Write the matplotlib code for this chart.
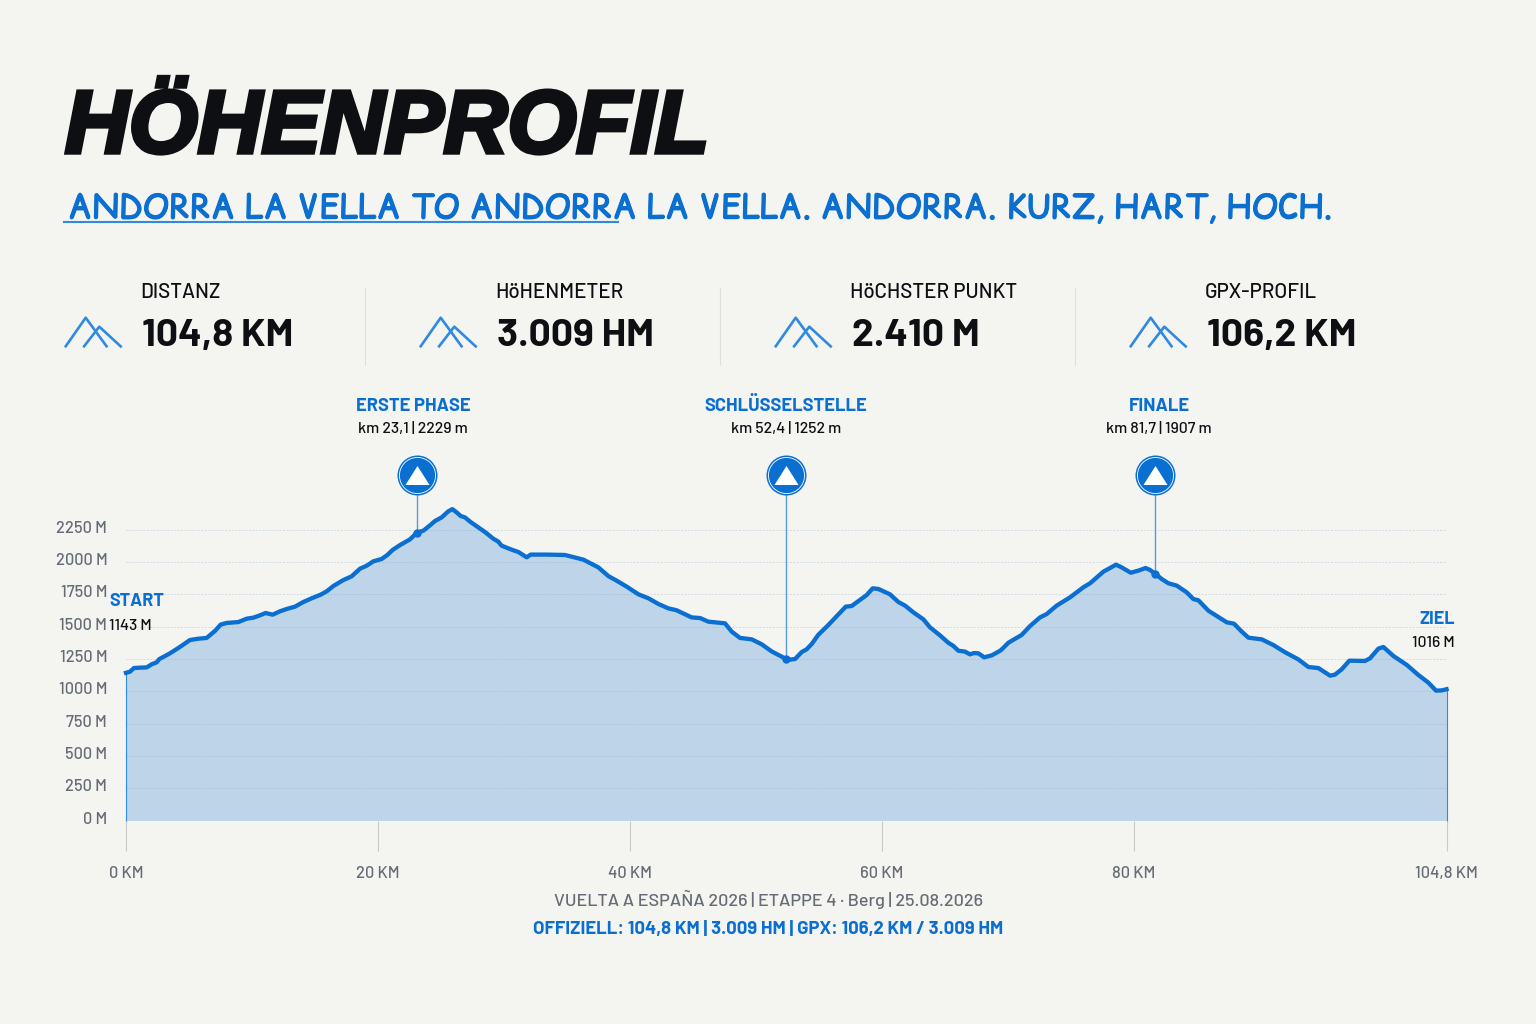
import matplotlib
matplotlib.use("Agg")
import matplotlib.pyplot as plt
import matplotlib.patheffects as pe
from matplotlib.path import Path
from matplotlib.transforms import ScaledTranslation

plt.rcParams["font.family"] = ["Barlow", "Roboto", "DejaVu Sans"]

# profile
km = [0, 0.32, 0.63, 1.11, 1.64, 2.04, 2.43, 2.65, 3.10, 3.49, 4.15, 5.08, 5.74, 6.40, 7.06, 7.51, 7.99, 8.92, 9.58,
      10.11, 10.63, 11.08, 11.64, 12.22, 12.75, 13.41, 14.07, 14.74, 15.45, 15.93, 16.46, 17.25, 17.91, 18.57, 19.10,
      19.63, 20.29, 20.74, 21.16, 21.75, 22.54, 23.10, 23.60, 24.13, 24.52, 25.05, 25.58, 25.90, 26.24, 26.56, 26.90,
      27.35, 28.49, 29.15, 29.55, 29.81, 30.48, 31.14, 31.80, 32.12, 33.39, 34.84, 36.30, 37.49, 38.28, 38.94, 39.74,
      40.66, 41.46, 42.25, 43.04, 43.70, 44.89, 45.56, 46.22, 47.54, 48.07, 48.73, 49.66, 50.45, 51.24, 52.30, 52.70,
      53.10, 53.63, 54.02, 54.42, 54.95, 55.74, 56.54, 57.12, 57.59, 58.25, 58.78, 59.26, 59.71, 60.63, 61.30, 61.83,
      62.49, 63.28, 63.81, 64.60, 65.26, 65.66, 66.06, 66.59, 66.98, 67.30, 67.65, 68.10, 68.71, 69.37, 69.51, 70.03,
      71.08, 71.75, 72.54, 73.07, 73.86, 74.92, 75.98, 76.51, 77.57, 78.57, 79.02, 79.74, 80.35, 80.92, 81.27, 81.72,
      82.20, 82.73, 83.39, 84.18, 84.71, 85.11, 85.90, 86.57, 87.36, 87.94, 88.55, 89.08, 90.14, 91.06, 91.99, 93.04,
      93.84, 94.63, 95.56, 95.95, 96.48, 97.09, 98.33, 98.73, 99.39, 99.79, 100.59, 101.65, 102.57, 103.36, 103.97,
      104.42, 104.8]
elev = [1143, 1152, 1180, 1183, 1185, 1209, 1224, 1250, 1273, 1294, 1335, 1397, 1407, 1413, 1467, 1516, 1529, 1536, 1562,
        1570, 1588, 1606, 1593, 1619, 1637, 1655, 1691, 1720, 1748, 1774, 1815, 1861, 1890, 1949, 1972,
        2006, 2024, 2055, 2094, 2132, 2176, 2229, 2243, 2285, 2318, 2346, 2393, 2410, 2385, 2357, 2346,
        2310, 2233, 2181, 2158, 2127, 2101, 2078, 2037, 2058, 2058, 2055, 2019, 1959, 1892, 1856, 1810,
        1751, 1720, 1676, 1642, 1627, 1572, 1567, 1539, 1526, 1462, 1413, 1402, 1364, 1309, 1255, 1245,
        1250, 1304, 1325, 1366, 1438, 1513, 1596, 1655, 1660, 1707, 1745, 1797, 1792, 1751, 1691, 1663,
        1611, 1557, 1495, 1433, 1376, 1351, 1314, 1307, 1286, 1296, 1294, 1263, 1278, 1314, 1325, 1376,
        1436, 1505, 1572, 1598, 1663, 1727, 1805, 1836, 1926, 1980, 1959, 1918, 1934, 1954, 1939, 1907,
        1869, 1836, 1818, 1766, 1714, 1704, 1624, 1583, 1534, 1523, 1462, 1415, 1402, 1358, 1302, 1247,
        1188, 1180, 1121, 1129, 1170, 1237, 1235, 1255, 1330, 1343, 1273, 1204, 1126, 1067, 1005,
        1007, 1016]

y_ticks = [0, 250, 500, 750, 1000, 1250, 1500, 1750, 2000, 2250]
x_ticks = [0, 20, 40, 60, 80, 104.8]
x_labels = ["0 KM", "20 KM", "40 KM", "60 KM", "80 KM", "104,8 KM"]

phase_names = ["ERSTE PHASE", "SCHLÜSSELSTELLE", "FINALE"]
phase_km = [23.1, 52.4, 81.7]
phase_elev = [2229, 1252, 1907]
phase_subs = ["km 23,1 | 2229 m", "km 52,4 | 1252 m", "km 81,7 | 1907 m"]

stat_names = ["DISTANZ", "HöHENMETER", "HöCHSTER PUNKT", "GPX-PROFIL"]
stat_values = ["104,8 KM", "3.009 HM", "2.410 M", "106,2 KM"]

BG = "#f4f4f0"
BLUE = "#0a6fd0"
LIGHT = "#2f8ae0"
DARK = "#0d0f12"
GREY = "#666c75"

W, H = 1536, 1024
PX = 0.72  # font px to pt at dpi 100

fig = plt.figure(figsize=(W / 100, H / 100), dpi=100, facecolor=BG)

# chart
y_top = 3000
ax = fig.add_axes([126 / W, (H - 820.5) / H, 1320.5 / W, 387.6 / H])
ax.patch.set_alpha(0)
ax.fill_between(km, elev, 0, color="#bed5e9", lw=0, zorder=1)
ax.hlines(y_ticks, 0, 104.8, color="#6f9cc0", lw=0.7, ls=(0, (2, 1.5)), alpha=0.27, zorder=2)
ax.vlines([km[0], km[-1]], 0, [elev[0], elev[-1]], color=LIGHT, lw=0.8, zorder=3, clip_on=False)
ax.plot(km, elev, color=BLUE, lw=3.1, solid_joinstyle="round", zorder=4, clip_on=False)

marker_y = 2674
tri = Path([(-12, -9.5), (0, 9.5), (12, -9.5), (-12, -9.5)], closed=True)
ax.vlines(phase_km, phase_elev, marker_y, color="#5b9bd5", lw=1, zorder=3)
ax.plot(phase_km, phase_elev, "o", color=BLUE, ms=5, zorder=5, ls="none")
ax.plot(phase_km, [marker_y] * 3, "o", color=BLUE, ms=28.8, mew=0, zorder=5, clip_on=False, ls="none")
ax.plot(phase_km, [marker_y] * 3, "o", mfc="none", mec="white", ms=26, mew=0.6, zorder=6, clip_on=False, ls="none")
ax.plot(phase_km, [marker_y] * 3, marker=tri, color="white", ms=17.3, mew=0, ls="none", zorder=7, clip_on=False)

ax.set_xlim(0, 104.8)
ax.set_ylim(0, y_top)
for s in ax.spines.values():
    s.set_visible(False)
ax.set_xticks(x_ticks, labels=x_labels)
ax.set_yticks(y_ticks, labels=[f"{v} M" for v in y_ticks])
ax.tick_params(axis="x", length=21.6, width=0.8, color="#c9cacb", labelcolor=GREY, labelsize=16.5 * PX, pad=11.5)
ax.tick_params(axis="y", length=0, labelcolor=GREY, labelsize=16.4 * PX, pad=13.5)
for lab in ax.get_xticklabels() + ax.get_yticklabels():
    lab.set_weight(500)
for lab in ax.get_yticklabels():
    lab.set_transform(lab.get_transform() + ScaledTranslation(0, 3 / 100, fig.dpi_scale_trans))

# overlay in pixels for the header
ov = fig.add_axes([0, 0, 1, 1])
ov.set_xlim(0, W)
ov.set_ylim(H, 0)
ov.axis("off")
ov.patch.set_alpha(0)

title = ov.text(65, 152.5, "HÖHENPROFIL", family="Liberation Sans", weight="bold", style="italic", fontsize=88.5 * PX,
                color=DARK, va="baseline")
title.set_path_effects([pe.withStroke(linewidth=3.2, foreground=DARK, joinstyle="miter")])
subtitle = ov.text(68, 218, "ANDORRA LA VELLA TO ANDORRA LA VELLA. ANDORRA. KURZ, HART, HOCH.",
                   family=["Comic Relief", "Comic Neue", "DejaVu Sans"], style="italic", fontsize=33.2 * PX,
                   color=BLUE, va="baseline")
subtitle.set_path_effects([pe.withStroke(linewidth=0.8, foreground=BLUE)])
ov.plot([64, 618], [222, 222], color=LIGHT, lw=1.5)

for i in range(4):
    dx = 355 * i
    ov.plot([65 + dx, 85.7 + dx, 107.3 + dx], [347.3, 317.7, 347.3], color=LIGHT, lw=1.9, solid_capstyle="butt")
    ov.plot([83.3 + dx, 99.3 + dx, 121.7 + dx], [347.3, 326.7, 347.3], color=LIGHT, lw=1.9, solid_capstyle="butt")
    ov.text(140 + dx, 293, stat_names[i], weight=500, fontsize=20.6 * PX, color=DARK, va="center")
    ov.text(142 + dx, 346, stat_values[i], weight="bold", fontsize=39 * PX, color=DARK, va="baseline")
    if i < 3:
        ov.plot([365 + dx, 365 + dx], [288, 365], color="#dfdfdf", lw=0.8)

for name, sub, cx in zip(phase_names, phase_subs, [413, 786, 1159]):
    ov.text(cx, 411, name, weight="bold", fontsize=18.4 * PX, color=BLUE, ha="center", va="baseline")
    ov.text(cx, 433, sub, weight=500, fontsize=15.8 * PX, color=DARK, ha="center", va="baseline")

ov.text(109, 602, "START", weight="bold", fontsize=18 * PX, color=BLUE, va="center")
ov.text(109, 626, "1143 M", weight=500, fontsize=15.8 * PX, color=DARK, va="center")
ov.text(1455, 619, "ZIEL", weight="bold", fontsize=18 * PX, color=BLUE, ha="right", va="center")
ov.text(1455, 643, "1016 M", weight=500, fontsize=15.8 * PX, color=DARK, ha="right", va="center")

ov.text(768, 899, "VUELTA A ESPAÑA 2026 | ETAPPE 4 · Berg | 25.08.2026", weight=500, fontsize=18 * PX,
        color=GREY, ha="center", va="center")
ov.text(768, 929, "OFFIZIELL: 104,8 KM | 3.009 HM | GPX: 106,2 KM / 3.009 HM", weight="bold",
        fontsize=18.5 * PX, color=BLUE, ha="center", va="center")

fig.savefig("out.png", dpi=100, facecolor=BG)
